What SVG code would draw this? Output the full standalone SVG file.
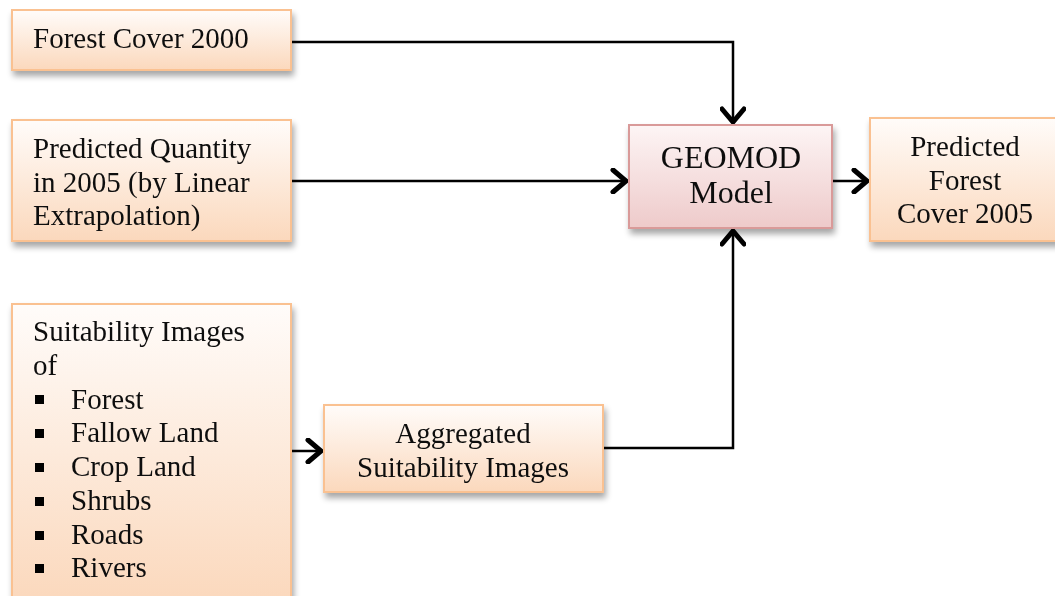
<svg xmlns="http://www.w3.org/2000/svg" width="1055" height="596" viewBox="0 0 1055 596">
<defs>
<linearGradient id="gOr" x1="0" y1="0" x2="0" y2="1">
<stop offset="0" stop-color="#fffcfa"/>
<stop offset="1" stop-color="#fbd8bc"/>
</linearGradient>
<linearGradient id="gPk" x1="0" y1="0" x2="0" y2="1">
<stop offset="0" stop-color="#fdf5f5"/>
<stop offset="1" stop-color="#eecaca"/>
</linearGradient>
<filter id="sh" x="-10%" y="-10%" width="130%" height="140%">
<feGaussianBlur in="SourceAlpha" stdDeviation="3"/>
<feOffset dx="2" dy="5" result="b"/>
<feComponentTransfer><feFuncA type="linear" slope="0.35"/></feComponentTransfer>
<feMerge><feMergeNode/><feMergeNode in="SourceGraphic"/></feMerge>
</filter>
<marker id="ah" viewBox="0 0 19 26" refX="16" refY="13" markerWidth="19" markerHeight="26" markerUnits="userSpaceOnUse" orient="auto">
<path d="M3,2 L16,13 L3,24" fill="none" stroke="#000" stroke-width="5" stroke-linecap="round" stroke-linejoin="miter"/>
</marker>
</defs>
<style>
.box{fill:url(#gOr);stroke:#fac191;stroke-width:2}
.pk{fill:url(#gPk);stroke:#d99a99;stroke-width:2}
text{font-family:"Liberation Serif","Times New Roman",serif;font-size:29px;fill:#111}
.c{text-anchor:middle}
.big{font-size:32px}
.cn{fill:none;stroke:#000;stroke-width:2.5}
</style>
<rect width="1055" height="596" fill="#fff"/>
<g id="connectors">
<path class="cn" d="M291,42 H733 V122" marker-end="url(#ah)"/>
<path class="cn" d="M291,181 H626" marker-end="url(#ah)"/>
<path class="cn" d="M603,448 H733 V231" marker-end="url(#ah)"/>
<path class="cn" d="M832,181 H867" marker-end="url(#ah)"/>
<path class="cn" d="M291,451 H321" marker-end="url(#ah)"/>
</g>
<g id="forest2000" filter="url(#sh)">
<rect class="box" x="12" y="10" width="279" height="60"/>
<text x="33" y="48">Forest Cover 2000</text>
</g>
<g id="quantity" filter="url(#sh)">
<rect class="box" x="12" y="120" width="279" height="121"/>
<text x="33" y="158">Predicted Quantity</text>
<text x="33" y="192">in 2005 (by Linear</text>
<text x="33" y="225">Extrapolation)</text>
</g>
<g id="suitability" filter="url(#sh)">
<rect class="box" x="12" y="304" width="279" height="300"/>
<text x="33" y="341">Suitability Images</text>
<text x="33" y="375">of</text>
<g fill="#000">
<rect x="35" y="395" width="9" height="9"/>
<rect x="35" y="429" width="9" height="9"/>
<rect x="35" y="463" width="9" height="9"/>
<rect x="35" y="497" width="9" height="9"/>
<rect x="35" y="531" width="9" height="9"/>
<rect x="35" y="564" width="9" height="9"/>
</g>
<text x="71" y="409">Forest</text>
<text x="71" y="442">Fallow Land</text>
<text x="71" y="476">Crop Land</text>
<text x="71" y="510">Shrubs</text>
<text x="71" y="544">Roads</text>
<text x="71" y="577">Rivers</text>
</g>
<g id="aggregated" filter="url(#sh)">
<rect class="box" x="324" y="405" width="279" height="87"/>
<text class="c" x="463" y="443">Aggregated</text>
<text class="c" x="463" y="477">Suitability Images</text>
</g>
<g id="geomod" filter="url(#sh)">
<rect class="pk" x="629" y="125" width="203" height="103"/>
<text class="c big" x="731" y="168">GEOMOD</text>
<text class="c big" x="731" y="203">Model</text>
</g>
<g id="predicted" filter="url(#sh)">
<rect class="box" x="870" y="118" width="195" height="123"/>
<text class="c" x="965" y="156">Predicted</text>
<text class="c" x="965" y="190">Forest</text>
<text class="c" x="965" y="223">Cover 2005</text>
</g>
</svg>
